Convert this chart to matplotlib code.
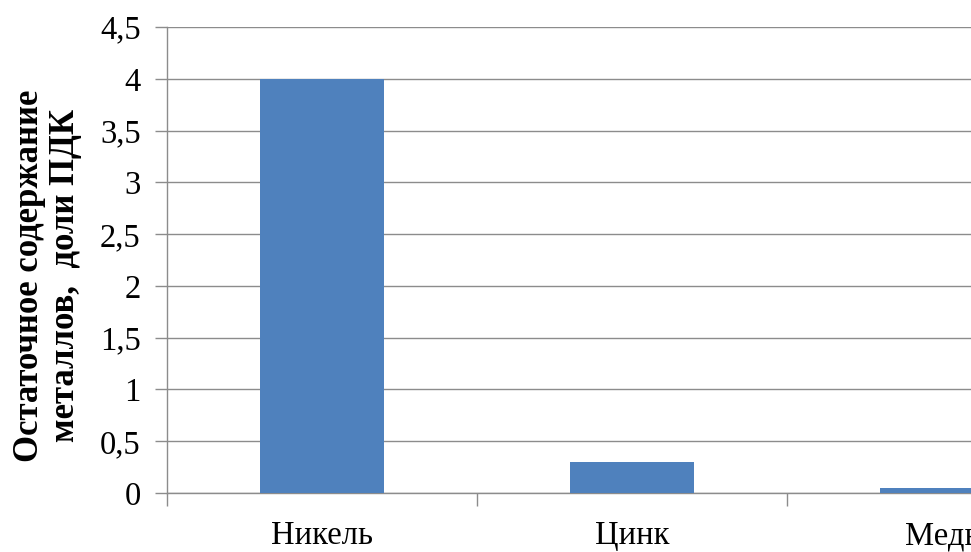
import matplotlib
matplotlib.use("Agg")
import matplotlib.pyplot as plt
from matplotlib.ticker import FuncFormatter, MultipleLocator, FixedLocator

metals = ["Никель", "Цинк", "Медь"]
residual = [4.0, 0.3, 0.05]
y_label = "Остаточное содержание\nметаллов,  доли ПДК"

plt.rcParams["font.family"] = ["Liberation Serif", "DejaVu Serif"]

fig = plt.figure(figsize=(9.71, 5.52), dpi=100)
ax = fig.add_axes([167 / 971, 1 - 493 / 552, 930 / 971, 466 / 552])

x = range(len(metals))
ax.bar(x, residual, width=0.4, color="#4F81BD", zorder=3)

ax.set_xlim(-0.5, len(metals) - 0.5)
ax.set_ylim(0, 4.5)
ax.yaxis.set_major_locator(MultipleLocator(0.5))
ax.yaxis.set_major_formatter(FuncFormatter(lambda v, p: f"{v:g}".replace(".", ",")))
ax.grid(axis="y", color="#8C8C8C", linewidth=1.0, zorder=0)

# category separators as major ticks, names as minor ticks
ax.xaxis.set_major_locator(FixedLocator([i + 0.5 for i in range(-1, len(metals))]))
ax.xaxis.set_major_formatter(FuncFormatter(lambda v, p: ""))
ax.xaxis.set_minor_locator(FixedLocator(list(x)))
ax.set_xticklabels(metals, minor=True)
ax.tick_params(axis="x", which="major", direction="out", length=9, color="#8C8C8C", width=1)
ax.tick_params(axis="x", which="minor", length=0, pad=20, labelsize=23.5)
ax.tick_params(axis="y", direction="out", length=9, color="#8C8C8C", width=1, labelsize=23.5, pad=10)

for s in ("top", "right"):
    ax.spines[s].set_visible(False)
for s in ("left", "bottom"):
    ax.spines[s].set_color("#8C8C8C")
    ax.spines[s].set_linewidth(1.0)

ax.set_ylabel(y_label, fontsize=25, fontweight="bold", linespacing=1.12)
ax.yaxis.set_label_coords(-0.0914, 0.466)

fig.savefig("out.png", dpi=100)
